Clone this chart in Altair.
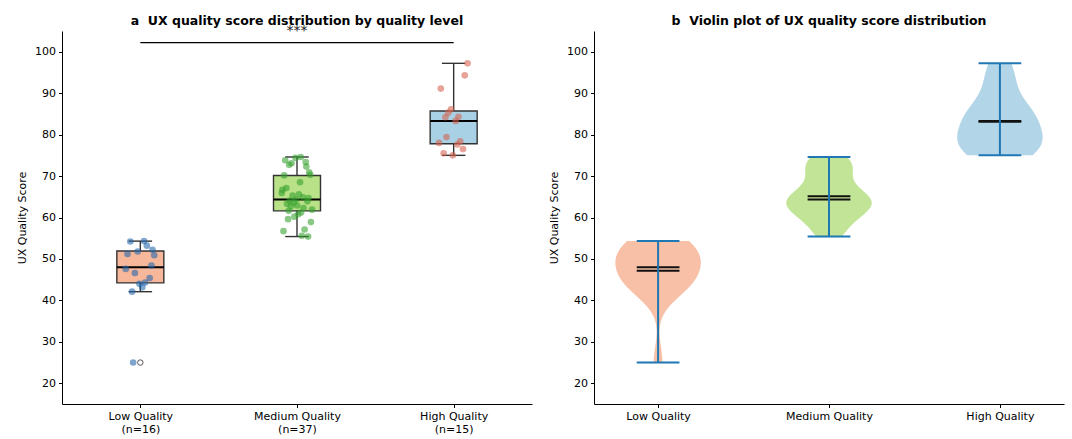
import json
import altair as alt
import numpy as np
import pandas as pd

# ---------------- data ----------------
CATEGORIES = ["Low Quality", "Medium Quality", "High Quality"]

LOW = [54.3, 42.1, 48.4, 44.0, 51.2, 53.2, 46.6, 50.9, 43.2, 54.2, 45.4,
       51.8, 47.6, 44.3, 25.0, 52.2]
MEDIUM = [74.6, 61.6, 55.4, 64.35, 70.15, 62.3, 73.1, 58.9, 65.6, 63.3, 72.3,
          60.2, 66.7, 55.6, 64.1, 70.9, 62.9, 73.8, 57.1, 65.3, 61.9, 68.5,
          59.6, 63.9, 74.4, 56.7, 64.9, 62.7, 70.3, 60.8, 67.1, 73.4, 63.6,
          65.9, 61.2, 72.7, 64.7]
HIGH = [77.6, 84.2, 94.3, 75.0, 91.1, 78.4, 85.3, 97.2, 83.3, 75.5, 76.5,
        86.1, 78.0, 84.3, 79.4]
GROUPS = [LOW, MEDIUM, HIGH]

Y_DOMAIN = [15, 105]
Y_TICKS = [20, 30, 40, 50, 60, 70, 80, 90, 100]
SIG_LABEL = "***"

BOX_COLORS = ["#F4A582", "#A6D96A", "#92C5DE"]
POINT_COLORS = ["#2166AC", "#33A02C", "#D6604D"]
VIOLIN_COLORS = BOX_COLORS
LINE_BLUE = "#1f77b4"

rows = []
for i, (cat, vals) in enumerate(zip(CATEGORIES, GROUPS)):
    for v in vals:
        rows.append({"group": cat, "idx": i, "value": v})
df = pd.DataFrame(rows)

FONT = "DejaVu Sans"
W, H = 470, 373


def yenc(field):
    return alt.Y(field, type="quantitative",
                 scale=alt.Scale(domain=Y_DOMAIN, nice=False, zero=False),
                 axis=alt.Axis(values=Y_TICKS, titlePadding=7),
                 title="UX Quality Score")


def xenc(field, domain, labels_expr):
    return alt.X(field, type="quantitative",
                 scale=alt.Scale(domain=domain, nice=False, zero=False),
                 axis=alt.Axis(values=list(range(len(CATEGORIES))),
                               labelExpr=labels_expr, labelFlush=False,
                               labelOverlap=False, labelLineHeight=13,
                               labelBaseline="top"),
                 title=None)


# ---------------- panel a: box + strip ----------------
left_labels = [[c, f"(n={len(v)})"] for c, v in zip(CATEGORIES, GROUPS)]
LEXPR = json.dumps(left_labels) + "[datum.value]"
LDOM = [-0.5, len(CATEGORIES) - 0.5]


def lx(f):
    return xenc(f, LDOM, LEXPR)


base = alt.Chart(df)

box = base.transform_aggregate(
    q1="q1(value)", q3="q3(value)", groupby=["group", "idx"]
).transform_calculate(
    xa="datum.idx - 0.15", xb="datum.idx + 0.15"
).mark_rect(stroke="#333333", strokeWidth=1.4, fillOpacity=0.8).encode(
    x=lx("xa"), x2="xb:Q", y=yenc("q1"), y2="q3:Q",
    fill=alt.Fill("group:N", scale=alt.Scale(domain=CATEGORIES, range=BOX_COLORS),
                  legend=None),
)

stats = base.transform_joinaggregate(
    q1="q1(value)", q3="q3(value)", groupby=["idx"]
).transform_calculate(
    lo="datum.q1 - 1.5*(datum.q3 - datum.q1)",
    hi="datum.q3 + 1.5*(datum.q3 - datum.q1)",
)

whisk = stats.transform_filter(
    "datum.value >= datum.lo && datum.value <= datum.hi"
).transform_aggregate(
    wmin="min(value)", wmax="max(value)", q1="min(q1)", q3="min(q3)",
    groupby=["idx"]
).transform_calculate(ca="datum.idx - 0.075", cb="datum.idx + 0.075")

wl = whisk.mark_rule(color="#333333", strokeWidth=1.4).encode(
    x=lx("idx"), y=yenc("wmin"), y2="q1:Q")
wu = whisk.mark_rule(color="#333333", strokeWidth=1.4).encode(
    x=lx("idx"), y=yenc("q3"), y2="wmax:Q")
capl = whisk.mark_rule(color="#333333", strokeWidth=1.4).encode(
    x=lx("ca"), x2="cb:Q", y=yenc("wmin"))
capu = whisk.mark_rule(color="#333333", strokeWidth=1.4).encode(
    x=lx("ca"), x2="cb:Q", y=yenc("wmax"))

med = base.transform_aggregate(
    med="median(value)", groupby=["idx"]
).transform_calculate(
    xa="datum.idx - 0.15", xb="datum.idx + 0.15"
).mark_rule(color="black", strokeWidth=2).encode(
    x=lx("xa"), x2="xb:Q", y=yenc("med"))

outl = stats.transform_filter(
    "datum.value < datum.lo || datum.value > datum.hi"
).mark_point(shape="circle", filled=False, color="#555555", strokeWidth=1,
             size=30, opacity=1).encode(x=lx("idx"), y=yenc("value"))

pts = base.transform_window(
    rn="row_number()", groupby=["idx"]
).transform_calculate(
    xj="datum.idx + (((datum.rn * 0.618034) % 1) - 0.5) * 0.2"
).mark_circle(size=44, opacity=0.58).encode(
    x=lx("xj"), y=yenc("value"),
    color=alt.Color("group:N", scale=alt.Scale(domain=CATEGORIES, range=POINT_COLORS),
                    legend=None),
)

sig = base.transform_aggregate(m="max(value)").transform_calculate(
    y="datum.m + 5", ty="datum.m + 6", x0="0",
    x1=str(len(CATEGORIES) - 1), xm=str((len(CATEGORIES) - 1) / 2))
sig_line = sig.mark_rule(color="black", strokeWidth=1.2).encode(
    x=lx("x0"), x2="x1:Q", y=yenc("y"))
sig_text = sig.mark_text(text=SIG_LABEL, baseline="bottom", align="center",
                         fontSize=14, font=FONT, color="#222222").encode(
    x=lx("xm"), y=yenc("ty"))

left = alt.layer(box, wl, wu, capl, capu, med, outl, pts, sig_line, sig_text).properties(
    width=W, height=H,
    title=alt.TitleParams("a\u00a0\u00a0UX quality score distribution by quality level",
                          anchor="middle", frame="group", offset=-12.7,
                          baseline="alphabetic"),
)

# ---------------- panel b: violins ----------------
REXPR = json.dumps(CATEGORIES) + "[datum.value]"
RDOM = [-0.375, len(CATEGORIES) - 1 + 0.375]


def rx(f):
    return xenc(f, RDOM, REXPR)


vlayers = []
for i, (cat, vals) in enumerate(zip(CATEGORIES, GROUPS)):
    bw = float(np.std(vals, ddof=1) * len(vals) ** (-0.2))
    area = alt.Chart(df).transform_filter(
        alt.datum.group == cat
    ).transform_density(
        "value", as_=["value", "density"], bandwidth=bw, steps=200
    ).transform_joinaggregate(dmax="max(density)").transform_calculate(
        xl=f"{i} - 0.25 * datum.density / datum.dmax",
        xr=f"{i} + 0.25 * datum.density / datum.dmax",
    ).mark_area(orient="horizontal", color=VIOLIN_COLORS[i], opacity=0.7).encode(
        y=yenc("value"), x=rx("xl"), x2="xr:Q")
    vlayers.append(area)

vstats = base.transform_aggregate(
    vmin="min(value)", vmax="max(value)", vmean="mean(value)",
    vmed="median(value)", groupby=["idx"]
).transform_calculate(xa="datum.idx - 0.125", xb="datum.idx + 0.125")

vmean = vstats.mark_rule(color="#111111", strokeWidth=2).encode(
    x=rx("xa"), x2="xb:Q", y=yenc("vmean"))
vmed = vstats.mark_rule(color="#111111", strokeWidth=2).encode(
    x=rx("xa"), x2="xb:Q", y=yenc("vmed"))
vbar = vstats.mark_rule(color=LINE_BLUE, strokeWidth=2).encode(
    x=rx("idx"), y=yenc("vmin"), y2="vmax:Q")
vcmin = vstats.mark_rule(color=LINE_BLUE, strokeWidth=2).encode(
    x=rx("xa"), x2="xb:Q", y=yenc("vmin"))
vcmax = vstats.mark_rule(color=LINE_BLUE, strokeWidth=2).encode(
    x=rx("xa"), x2="xb:Q", y=yenc("vmax"))

right = alt.layer(*vlayers, vmean, vmed, vbar, vcmin, vcmax).properties(
    width=W, height=H,
    title=alt.TitleParams("b\u00a0\u00a0Violin plot of UX quality score distribution",
                          anchor="middle", frame="group", offset=-6.2,
                          baseline="alphabetic"),
)

chart = alt.hconcat(left, right, spacing=62, bounds="flush").configure_view(
    stroke=None
).configure_axis(
    grid=False, domainColor="black", tickColor="black", labelColor="black",
    titleColor="black", labelFont=FONT, titleFont=FONT, labelFontSize=11,
    titleFontSize=11, titleFontWeight="normal", tickSize=3.5, labelPadding=3,
    domainWidth=1, tickWidth=1,
).configure_title(
    font=FONT, fontSize=12.5, fontWeight="bold", color="black"
).properties(
    padding={"left": 16, "top": 14, "right": 8, "bottom": 2}
)

chart.save("out.html", embed_options={"renderer": "svg", "actions": False})
